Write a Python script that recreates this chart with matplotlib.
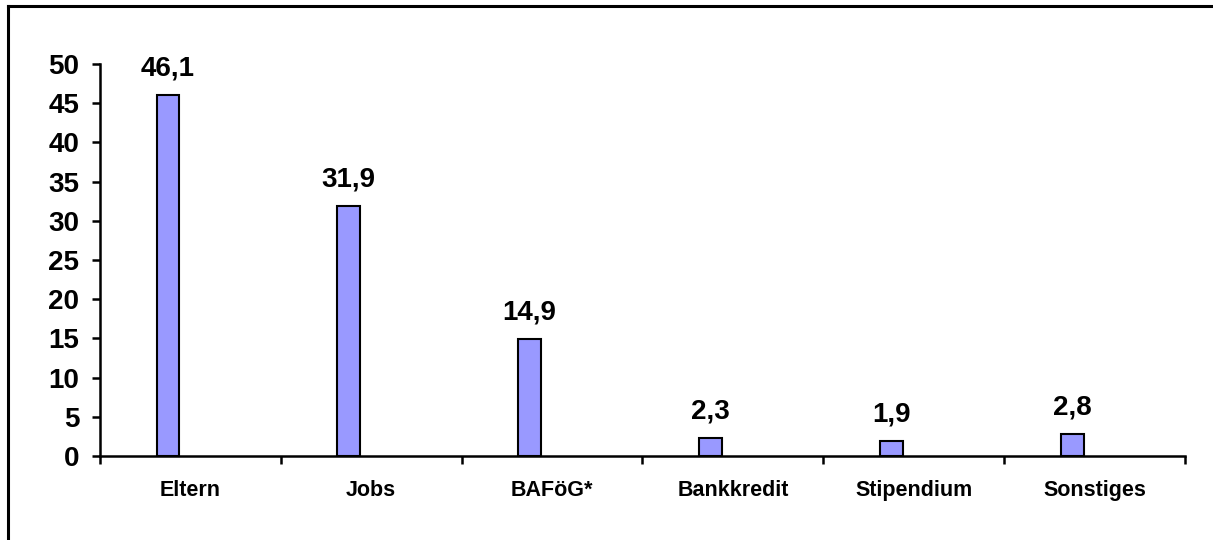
import matplotlib
matplotlib.use("Agg")
import matplotlib.pyplot as plt
from matplotlib.lines import Line2D

categories = ["Eltern", "Jobs", "BAFöG*", "Bankkredit", "Stipendium", "Sonstiges"]
values = [46.1, 31.9, 14.9, 2.3, 1.9, 2.8]
value_labels = ["46,1", "31,9", "14,9", "2,3", "1,9", "2,8"]
yticks = [0, 5, 10, 15, 20, 25, 30, 35, 40, 45, 50]

W, H = 1213, 540
fig = plt.figure(figsize=(W / 100, H / 100), dpi=100)
fig.patch.set_facecolor("white")

# figure border (top and left visible)
fig.add_artist(Line2D([8 / W, 8 / W], [0, 1 - 6 / H], transform=fig.transFigure, color="black", lw=2.2))
fig.add_artist(Line2D([8 / W, 1], [1 - 6 / H, 1 - 6 / H], transform=fig.transFigure, color="black", lw=2.2))

ax = fig.add_axes([100 / W, 1 - 456 / H, (1185 - 100) / W, (456 - 64) / H])
x = list(range(len(categories)))
bar_offset = -0.124  # bars sit left of the category centre (clustered layout)
bx = [xi + bar_offset for xi in x]
ax.bar(bx, values, width=0.127, color="#9999FF", edgecolor="black", linewidth=1.5, zorder=3)

ax.set_xlim(-0.5, len(categories) - 0.5)
ax.set_ylim(0, 50)

for s in ["top", "right"]:
    ax.spines[s].set_visible(False)
for s in ["left", "bottom"]:
    ax.spines[s].set_linewidth(1.8)

font = "Liberation Sans"
ax.set_yticks(yticks)
ax.set_yticklabels([str(v) for v in yticks], fontsize=20, fontweight="bold", family=font)
ax.tick_params(axis="y", direction="out", length=6, width=1.8, pad=9)

ax.set_xticks([i - 0.5 for i in range(len(categories) + 1)], minor=False)
ax.set_xticklabels([])
ax.tick_params(axis="x", which="major", direction="out", length=5.5, width=1.8)
ax.set_xticks(x, minor=True)
ax.set_xticklabels(categories, minor=True, fontsize=15.5, fontweight="bold", family=font)
ax.tick_params(axis="x", which="minor", length=0, pad=17)

for xi, v, lab in zip(bx, values, value_labels):
    ax.annotate(lab, (xi, v), xytext=(0, 14), textcoords="offset points",
                ha="center", va="baseline", fontsize=20, fontweight="bold", family=font)

fig.savefig("out.png", dpi=100)
